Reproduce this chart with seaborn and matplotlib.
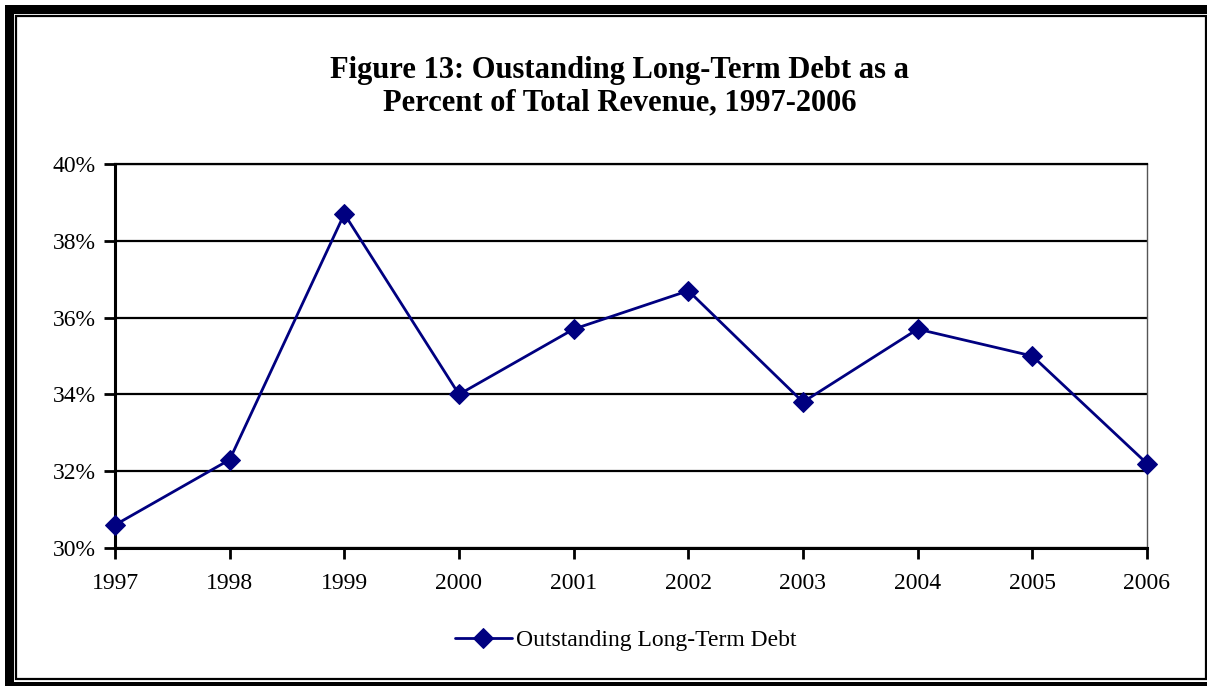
import pandas as pd
import matplotlib.pyplot as plt
import seaborn as sns
from matplotlib.patches import Rectangle
from matplotlib.ticker import FuncFormatter

# data
years = [1997, 1998, 1999, 2000, 2001, 2002, 2003, 2004, 2005, 2006]
debt_pct = [30.6, 32.3, 38.7, 34.0, 35.7, 36.7, 33.8, 35.7, 35.0, 32.2]
series_name = "Outstanding Long-Term Debt"

df = pd.DataFrame({"Year": years, "Pct": debt_pct, "Series": series_name})

sns.set_style("white")
plt.rcParams['font.family'] = ['Liberation Serif', 'DejaVu Serif']
plt.rcParams['text.color'] = 'black'

W, H = 1207, 686
fig = plt.figure(figsize=(W / 100, H / 100), dpi=100)

# double frame around the chart (pixel coords -> figure fractions)
def px_rect(x0, y0, x1, y1, **kw):
    return Rectangle((x0 / W, 1 - y1 / H), (x1 - x0) / W, (y1 - y0) / H,
                     transform=fig.transFigure, **kw)

fig.patches.append(px_rect(5, 5, W + 2, H + 2, facecolor="black", edgecolor="none", zorder=-10))
fig.patches.append(px_rect(14, 14, W + 2, 682, facecolor="white", edgecolor="none", zorder=-9))
fig.patches.append(px_rect(16, 16, 1205.5, 679, facecolor="white", edgecolor="black",
                           linewidth=1.6, zorder=-8))

ax = fig.add_axes([115 / W, 1 - 548 / H, 1032 / W, 384 / H])
ax.set_facecolor("none")

sns.lineplot(data=df, x="Year", y="Pct", hue="Series", palette=["#000080"],
             marker="D", markersize=10, markeredgecolor="#000080",
             linewidth=2, ax=ax, clip_on=False, zorder=5)

ax.set_xlim(1997, 2006)
ax.set_ylim(30, 40)
ax.set_xticks(years)
ax.set_yticks([30, 32, 34, 36, 38, 40])
ax.yaxis.set_major_formatter(FuncFormatter(lambda v, p: f"{v:.0f}%"))
ax.set_xlabel("")
ax.set_ylabel("")
ax.grid(axis="y", color="black", linewidth=1.6)
ax.set_axisbelow(True)

ax.spines["top"].set_color("black")
ax.spines["top"].set_linewidth(1.6)
ax.spines["right"].set_color("#555555")
ax.spines["right"].set_linewidth(1.0)
for s in ["left", "bottom"]:
    ax.spines[s].set_color("black")
    ax.spines[s].set_linewidth(2.2)

ax.tick_params(axis="both", direction="out", length=8, width=2, color="black",
               labelsize=17, labelcolor="black", left=True, bottom=True)
ax.tick_params(axis="x", pad=10)
ax.tick_params(axis="y", pad=6)

fig.text(620 / W, 1 - 87 / H,
         "Figure 13: Oustanding Long-Term Debt as a\nPercent of Total Revenue, 1997-2006",
         ha="center", va="center", fontsize=22, fontweight="bold", linespacing=1.15,
         color="black")

leg = ax.legend(loc="center", bbox_to_anchor=(626 / W, 1 - 640 / H),
                bbox_transform=fig.transFigure, frameon=False, fontsize=17,
                handlelength=2.4, handletextpad=0.2)
for t in leg.get_texts():
    t.set_color("black")

fig.savefig("out.png", dpi=100)
